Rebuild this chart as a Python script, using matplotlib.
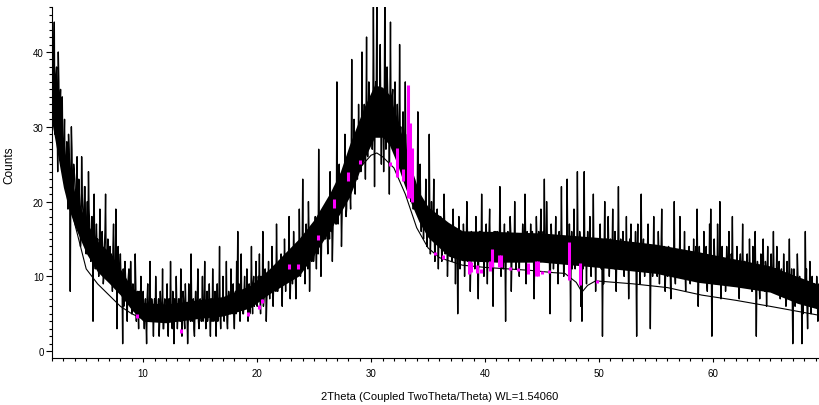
import numpy as np
import matplotlib
matplotlib.use('Agg')
from matplotlib import pyplot as plt
from matplotlib.ticker import MultipleLocator

plt.rcParams['font.family'] = ['Liberation Sans Narrow', 'Liberation Sans', 'DejaVu Sans']
plt.rcParams['path.simplify'] = False

# scan grid: 2Theta start and step of the measurement
scan_start = 2.0
scan_step = 0.05

# counts at 2.0, 2.1, 2.2 ... (one row per degree)
counts_02_10 = [
    41, 35, 44, 30, 38, 24, 36, 33, 28, 34,
    26, 31, 22, 28, 19, 27, 8, 30, 20, 25,
    23, 18, 26, 17, 21, 14, 26, 19, 16, 22,
    13, 20, 24, 17, 12, 18, 4, 21, 11, 17,
    15, 10, 19, 13, 16, 9, 14, 21, 12, 15,
    11, 14, 13, 8, 17, 12, 19, 3, 14, 10,
    13, 8, 1, 6, 12, 9, 4, 10, 7, 12,
    5, 9, 6, 13, 4, 8, 3, 7, 10, 5,
]
counts_10_20 = [
    8, 3, 7, 1, 9, 5, 12, 4, 6, 2,
    7, 10, 4, 6, 2, 8, 5, 11, 3, 7,
    5, 9, 2, 7, 12, 4, 8, 1, 6, 10,
    3, 7, 5, 11, 2, 8, 4, 9, 6, 1,
    9, 5, 13, 4, 7, 2, 8, 6, 11, 3,
    7, 4, 10, 6, 12, 3, 8, 5, 9, 2,
    6, 11, 4, 8, 2, 9, 5, 14, 3, 7,
    10, 4, 7, 12, 3, 8, 6, 11, 5, 9,
    3, 8, 12, 16, 9, 4, 13, 7, 5, 10,
    8, 11, 4, 9, 6, 14, 5, 10, 7, 12,
]
counts_20_30 = [
    6, 10, 13, 5, 9, 16, 7, 11, 4, 9,
    12, 7, 10, 14, 6, 11, 9, 17, 8, 12,
    9, 13, 6, 11, 15, 8, 12, 10, 18, 7,
    13, 9, 16, 11, 7, 14, 12, 19, 10, 13,
    23, 15, 9, 17, 13, 20, 8, 14, 12, 16,
    13, 18, 11, 16, 27, 14, 10, 17, 15, 19,
    15, 20, 13, 18, 24, 16, 12, 19, 22, 17,
    36, 17, 25, 19, 14, 23, 20, 29, 18, 24,
    22, 26, 19, 39, 24, 31, 21, 28, 23, 33,
    29, 24, 40, 27, 33, 23, 42, 26, 36, 28,
]
counts_30_40 = [
    33, 27, 47, 22, 36, 47, 29, 34, 41, 25,
    35, 24, 47, 27, 38, 33, 21, 44, 28, 35,
    32, 36, 29, 33, 26, 41, 30, 24, 32, 28,
    36, 23, 29, 22, 26, 20, 25, 19, 23, 21,
    22, 32, 18, 25, 16, 20, 15, 19, 23, 14,
    18, 29, 13, 20, 15, 23, 12, 16, 19, 11,
    14, 18, 12, 16, 21, 13, 15, 10, 17, 14,
    16, 12, 19, 14, 9, 15, 5, 18, 11, 16,
    13, 17, 10, 15, 20, 12, 14, 8, 16, 13,
    15, 11, 18, 13, 7, 16, 12, 21, 14, 10,
]
counts_40_50 = [
    14, 17, 9, 13, 19, 12, 15, 6, 16, 13,
    12, 16, 14, 22, 10, 15, 11, 17, 4, 13,
    16, 13, 18, 8, 14, 12, 20, 11, 15, 13,
    10, 15, 12, 17, 14, 21, 9, 16, 12, 14,
    17, 12, 15, 7, 13, 18, 11, 16, 14, 19,
    13, 16, 23, 14, 20, 12, 15, 5, 17, 13,
    11, 15, 18, 13, 9, 16, 12, 22, 14, 10,
    15, 12, 23, 14, 17, 4, 16, 13, 19, 11,
    14, 24, 12, 16, 6, 4, 11, 24, 13, 9,
    16, 12, 18, 10, 14, 21, 13, 8, 15, 12,
]
counts_50_60 = [
    13, 17, 11, 2, 9, 20, 14, 12, 18, 10,
    15, 12, 19, 13, 16, 8, 14, 22, 11, 15,
    12, 16, 10, 14, 18, 13, 7, 15, 17, 11,
    14, 11, 16, 2, 17, 13, 9, 21, 12, 15,
    10, 14, 12, 17, 11, 3, 14, 10, 18, 11,
    13, 10, 16, 9, 12, 19, 11, 14, 8, 12,
    10, 14, 12, 7, 13, 11, 20, 9, 13, 10,
    12, 18, 10, 13, 11, 16, 8, 13, 10, 14,
    9, 13, 11, 15, 10, 14, 19, 6, 14, 11,
    12, 10, 16, 11, 14, 8, 12, 17, 19, 2,
]
counts_60_69 = [
    11, 15, 9, 12, 17, 10, 20, 7, 14, 11,
    12, 8, 14, 11, 16, 9, 13, 18, 10, 12,
    10, 14, 11, 7, 13, 10, 17, 9, 12, 11,
    13, 9, 15, 11, 8, 14, 10, 16, 2, 12,
    11, 7, 13, 10, 15, 9, 12, 6, 14, 10,
    9, 13, 10, 16, 8, 11, 14, 9, 12, 7,
    11, 8, 13, 10, 6, 12, 9, 15, 8, 11,
    1, 11, 6, 9, 13, 7, 10, 8, 1, 5,
    9, 16, 11, 3, 8, 12, 5, 10, 7, 9,
    6, 10, 4, 9,
]

# counts at the half steps 2.05, 2.15, 2.25 ... (one row per degree)
half_02_10 = [
    32, 39, 29, 37, 31, 40, 27, 35, 30, 26,
    28, 23, 26, 21, 29, 24, 22, 27, 20, 24,
    20, 22, 17, 23, 19, 16, 21, 18, 22, 15,
    17, 14, 19, 15, 13, 16, 18, 12, 15, 14,
    12, 14, 11, 15, 13, 10, 16, 12, 11, 14,
    13, 10, 12, 14, 9, 11, 13, 10, 12, 9,
    10, 9, 11, 8, 10, 7, 9, 11, 8, 9,
    7, 8, 6, 9, 7, 5, 8, 6, 7, 6,
]
half_10_20 = [
    5, 6, 4, 7, 5, 6, 4, 7, 5, 6,
    4, 6, 5, 7, 4, 6, 5, 3, 6, 5,
    6, 4, 7, 5, 6, 3, 5, 7, 4, 6,
    5, 7, 4, 6, 5, 7, 3, 6, 5, 4,
    6, 4, 7, 5, 3, 6, 5, 7, 4, 6,
    5, 6, 4, 7, 5, 6, 4, 6, 5, 7,
    4, 6, 5, 7, 6, 4, 7, 5, 6, 5,
    6, 7, 5, 4, 6, 7, 5, 8, 6, 5,
    7, 5, 8, 6, 7, 9, 6, 5, 8, 7,
    6, 8, 7, 5, 8, 7, 9, 6, 8, 7,
]
half_20_30 = [
    8, 9, 7, 10, 8, 6, 9, 10, 7, 9,
    9, 10, 8, 11, 9, 10, 8, 11, 10, 9,
    11, 10, 12, 9, 11, 13, 10, 12, 11, 10,
    12, 11, 13, 10, 12, 14, 11, 13, 12, 14,
    13, 12, 15, 14, 11, 16, 13, 14, 15, 12,
    15, 14, 16, 13, 17, 15, 14, 16, 15, 17,
    17, 16, 18, 15, 19, 17, 16, 18, 20, 17,
    19, 21, 20, 22, 18, 21, 20, 23, 19, 22,
    23, 21, 24, 22, 25, 23, 26, 24, 25, 27,
    26, 28, 25, 29, 27, 30, 28, 31, 29, 30,
]
half_30_40 = [
    31, 30, 33, 32, 34, 31, 33, 35, 32, 34,
    33, 31, 34, 32, 35, 31, 33, 30, 34, 31,
    30, 31, 28, 30, 27, 29, 28, 26, 28, 27,
    25, 26, 24, 25, 23, 24, 22, 23, 21, 22,
    21, 20, 21, 19, 20, 18, 19, 18, 17, 19,
    17, 18, 16, 17, 18, 15, 17, 16, 15, 16,
    15, 16, 14, 15, 17, 14, 15, 13, 16, 15,
    14, 15, 13, 16, 14, 15, 13, 14, 15, 14,
    14, 15, 13, 14, 16, 13, 15, 12, 14, 15,
    13, 14, 15, 12, 14, 16, 13, 15, 14, 13,
]
half_40_50 = [
    15, 13, 14, 16, 13, 14, 12, 15, 14, 16,
    14, 15, 13, 16, 12, 14, 15, 13, 14, 15,
    13, 14, 16, 12, 15, 13, 14, 15, 12, 14,
    15, 13, 14, 15, 13, 16, 14, 12, 15, 13,
    14, 16, 13, 12, 14, 15, 13, 14, 16, 14,
    13, 15, 14, 13, 16, 14, 12, 13, 15, 14,
    13, 14, 12, 15, 13, 12, 14, 13, 15, 12,
    14, 13, 15, 12, 14, 13, 11, 14, 13, 15,
    12, 14, 13, 15, 12, 13, 14, 12, 13, 14,
    13, 15, 12, 13, 14, 12, 15, 13, 12, 14,
]
half_50_60 = [
    14, 12, 13, 12, 14, 13, 15, 12, 14, 13,
    12, 14, 13, 11, 13, 12, 14, 13, 12, 13,
    13, 12, 14, 12, 11, 13, 12, 14, 13, 12,
    12, 13, 11, 14, 12, 13, 12, 11, 14, 12,
    13, 12, 14, 11, 13, 12, 13, 12, 11, 13,
    12, 11, 13, 12, 14, 11, 12, 13, 11, 12,
    11, 12, 10, 13, 11, 12, 10, 12, 11, 13,
    12, 11, 13, 10, 12, 11, 12, 10, 13, 11,
    11, 12, 10, 11, 13, 11, 12, 10, 11, 12,
    11, 10, 12, 11, 9, 12, 10, 11, 12, 10,
]
half_60_69 = [
    10, 12, 11, 9, 11, 10, 12, 11, 10, 12,
    11, 10, 12, 10, 11, 9, 12, 10, 11, 10,
    10, 11, 9, 12, 10, 11, 10, 12, 9, 11,
    10, 9, 11, 10, 8, 10, 11, 9, 10, 11,
    9, 10, 11, 9, 10, 8, 11, 10, 9, 10,
    10, 9, 11, 10, 9, 10, 8, 11, 9, 10,
    9, 8, 10, 9, 7, 9, 10, 8, 9, 8,
    8, 9, 7, 8, 10, 8, 7, 9, 8, 7,
    7, 8, 6, 8, 7, 9, 7, 6, 8, 7,
    7, 8, 6, 8,
]

# solid core of the trace, where the points pile up into black
band_x = [2, 2.5, 3, 3.5, 4, 5, 6, 7, 8, 9, 10, 12, 15, 17, 19.4, 21, 23.7, 25,
          26.4, 27.3, 28.1, 29.4, 30.3, 31, 31.6, 32.3, 32.9, 33.5, 34.2, 35,
          36.8, 38, 41, 45, 50, 55, 58.7, 62, 65, 67.4, 69.3]
band_lo = [30.5, 26.2, 21.9, 18.9, 16.7, 13.1, 10.6, 9.1, 7.5, 5.5, 4, 3.8, 4.4,
           4.7, 5.8, 7.6, 10.1, 12.9, 16.2, 18.5, 20.6, 25.7, 28.6, 28.6, 27.6,
           25, 22.3, 19.8, 17.3, 15.2, 12.7, 12.1, 11.9, 11.9, 11.2, 10.4, 9.2,
           8.6, 7.9, 6.4, 5.6]
band_hi = [39.5, 33.7, 27.1, 24.1, 21.2, 17.3, 14.7, 13.3, 11, 8.5, 6.5, 6.3, 6.9,
           7.3, 8.8, 10.9, 15.1, 17.6, 21.2, 24, 27.6, 32.7, 35.6, 35.3, 34.3, 31,
           27.8, 24.6, 21.3, 19.3, 17.2, 16.1, 16, 15.8, 15.2, 14.3, 13.3, 12.3,
           11.4, 10, 8.9]

# smooth background curve
bg_x = [2, 3, 4, 5, 6, 7, 8, 9, 10, 12, 14, 16, 18, 20, 22, 24, 26, 27, 28, 29,
        30, 30.5, 31, 32, 33, 34, 35, 36, 38, 40, 42, 44, 46, 47, 48, 48.5, 49,
        49.7, 53, 56, 59, 62, 65, 68.6, 69.3]
bg_y = [34, 24, 17, 11, 9, 7.5, 6, 5, 4.3, 4.0, 4.5, 5.3, 6.3, 7.8, 9.6, 12, 15.8,
        18.3, 21.2, 24.5, 26.2, 26.5, 26, 24.5, 21, 16.5, 13.8, 12.5, 11.5, 11.2,
        11, 10.8, 10.5, 10.4, 9.2, 7.9, 8.8, 9.4, 9, 8.5, 7.5, 6.8, 6, 5, 4.8]

# magenta pieces showing through
mag_x = [9.5, 13.3, 19.2, 20.2, 20.4, 22.8, 23.6, 25.3, 26.7, 28.0, 29.0, 31.7,
         32.3, 32.8, 33.2, 33.4, 33.6, 35.6, 36.3, 38.55, 38.75, 39.3, 39.6, 40.4,
         40.6, 41.2, 41.4, 42.2, 42.9, 43.8, 44.45, 44.6, 45.0, 45.6, 47.4, 48.3, 49.8]
mag_lo = [4.5, 2.4, 4.7, 5.7, 6.4, 11.0, 11.0, 14.9, 19.1, 22.8, 25.0, 24.8,
          23.3, 22.7, 20.5, 20.5, 20.0, 12.9, 12.3, 10.3, 10.6, 10.5, 10.4, 10.7,
          11.3, 11.3, 11.3, 10.8, 10.7, 10.3, 10.1, 10.1, 10.3, 10.4, 9.5, 8.8, 9.1]
mag_hi = [5.0, 2.9, 5.2, 6.2, 7.0, 11.6, 11.6, 15.5, 20.4, 24.0, 25.6, 25.3,
          27.1, 24.4, 35.6, 30.5, 27.2, 13.3, 12.8, 12.1, 11.9, 11.5, 11.0, 12.0,
          13.7, 12.8, 12.8, 11.2, 11.1, 11.8, 12.1, 12.1, 10.7, 10.8, 14.6, 11.8, 9.5]

whole = (counts_02_10 + counts_10_20 + counts_20_30 + counts_30_40
         + counts_40_50 + counts_50_60 + counts_60_69)
half = (half_02_10 + half_10_20 + half_20_30 + half_30_40
        + half_40_50 + half_50_60 + half_60_69)
counts = np.column_stack([whole, half]).ravel().astype(float)
two_theta = scan_start + scan_step*np.arange(len(counts))

fig = plt.figure(figsize=(8.19, 4.06), dpi=100)
ax = fig.add_axes([0.0635, 0.116, 0.9365, 0.864])

ax.plot(bg_x, bg_y, color='black', lw=0.8, zorder=1)
ax.fill_between(band_x, band_lo, band_hi, color='black', lw=0, zorder=2)
ax.plot(two_theta, counts, color='black', lw=1.0, zorder=3)
ax.vlines(mag_x, mag_lo, mag_hi, colors='#ff00ff', lw=2.2, zorder=4)

ax.set_xlim(2, 69.3)
ax.set_ylim(-0.9, 46)
ax.xaxis.set_major_locator(MultipleLocator(10))
ax.xaxis.set_minor_locator(MultipleLocator(1))
ax.yaxis.set_major_locator(MultipleLocator(10))
ax.yaxis.set_minor_locator(MultipleLocator(1))
ax.tick_params(which='major', length=4, width=0.8, labelsize=7, pad=2)
ax.tick_params(which='minor', length=2.5, width=0.8)
ax.tick_params(axis='x', which='major', length=3, pad=4)
ax.spines['top'].set_visible(False)
ax.spines['right'].set_visible(False)

ax.set_xlabel('2Theta (Coupled TwoTheta/Theta) WL=1.54060', fontsize=8)
ax.xaxis.set_label_coords(0.506, -0.095)
ax.set_ylabel('Counts', fontsize=8.5)
ax.yaxis.set_label_coords(-0.048, 0.553)

plt.savefig('out.png', dpi=100)
